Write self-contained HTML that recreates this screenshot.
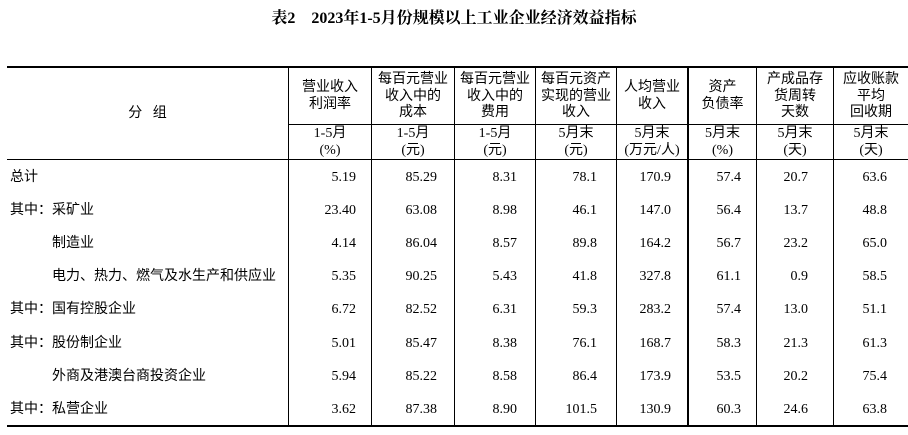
<!DOCTYPE html>
<html><head><meta charset="utf-8"><style>
body{margin:0;width:908px;height:435px;background:#fff;position:relative;overflow:hidden;font-family:"Liberation Serif","Noto Sans CJK SC",serif;color:#000}
.a{position:absolute;white-space:nowrap}
.h{position:absolute;background:#000}
.t{position:absolute;text-align:center;font-family:"Liberation Serif","Noto Sans CJK SC",sans-serif;font-size:14px;line-height:16.5px}
.n{position:absolute;text-align:right;font-size:14px;line-height:16px}
.l{position:absolute;font-family:"Liberation Serif","Noto Sans CJK SC",sans-serif;font-size:14px;line-height:16px}
</style></head><body>
<div class="a" style="left:0;width:908px;top:5px;text-align:center;font-weight:bold;font-size:16px;font-family:'Liberation Serif','Noto Serif CJK SC',serif">表2&nbsp;&nbsp;&nbsp;&nbsp;2023年1-5月份规模以上工业企业经济效益指标</div>
<div class="h" style="left:7px;top:66px;width:901px;height:2px"></div>
<div class="h" style="left:288px;top:124px;width:620px;height:1px"></div>
<div class="h" style="left:7px;top:159px;width:901px;height:1px"></div>
<div class="h" style="left:7px;top:425px;width:901px;height:2px"></div>
<div class="h" style="left:288px;top:67px;width:1px;height:359px"></div>
<div class="h" style="left:371px;top:67px;width:1px;height:359px"></div>
<div class="h" style="left:454px;top:67px;width:1px;height:359px"></div>
<div class="h" style="left:535px;top:67px;width:1px;height:359px"></div>
<div class="h" style="left:616px;top:67px;width:1px;height:359px"></div>
<div class="h" style="left:687px;top:67px;width:2px;height:359px"></div>
<div class="h" style="left:756px;top:67px;width:1px;height:359px"></div>
<div class="h" style="left:833px;top:67px;width:1px;height:359px"></div>
<div class="t" style="left:7px;width:281px;top:106px">分&nbsp;&nbsp;&nbsp;组</div>
<div class="t" style="left:289px;width:82px;top:80px">营业收入<br>利润率</div>
<div class="t" style="left:372px;width:82px;top:72px">每百元营业<br>收入中的<br>成本</div>
<div class="t" style="left:455px;width:80px;top:72px">每百元营业<br>收入中的<br>费用</div>
<div class="t" style="left:536px;width:80px;top:72px">每百元资产<br>实现的营业<br>收入</div>
<div class="t" style="left:617px;width:70px;top:80px">人均营业<br>收入</div>
<div class="t" style="left:689px;width:67px;top:80px">资产<br>负债率</div>
<div class="t" style="left:757px;width:76px;top:72px">产成品存<br>货周转<br>天数</div>
<div class="t" style="left:834px;width:74px;top:72px">应收账款<br>平均<br>回收期</div>
<div class="t" style="left:289px;width:82px;top:126px">1-5月<br>(%)</div>
<div class="t" style="left:372px;width:82px;top:126px">1-5月<br>(元)</div>
<div class="t" style="left:455px;width:80px;top:126px">1-5月<br>(元)</div>
<div class="t" style="left:536px;width:80px;top:126px">5月末<br>(元)</div>
<div class="t" style="left:617px;width:70px;top:126px">5月末<br>(万元/人)</div>
<div class="t" style="left:689px;width:67px;top:126px">5月末<br>(%)</div>
<div class="t" style="left:757px;width:76px;top:126px">5月末<br>(天)</div>
<div class="t" style="left:834px;width:74px;top:126px">5月末<br>(天)</div>
<div id="rows"></div>
<script>
var d=[["总计",0,"5.19","85.29","8.31","78.1","170.9","57.4","20.7","63.6"],
["其中：采矿业",0,"23.40","63.08","8.98","46.1","147.0","56.4","13.7","48.8"],
["制造业",1,"4.14","86.04","8.57","89.8","164.2","56.7","23.2","65.0"],
["电力、热力、燃气及水生产和供应业",1,"5.35","90.25","5.43","41.8","327.8","61.1","0.9","58.5"],
["其中：国有控股企业",0,"6.72","82.52","6.31","59.3","283.2","57.4","13.0","51.1"],
["其中：股份制企业",0,"5.01","85.47","8.38","76.1","168.7","58.3","21.3","61.3"],
["外商及港澳台商投资企业",1,"5.94","85.22","8.58","86.4","173.9","53.5","20.2","75.4"],
["其中：私营企业",0,"3.62","87.38","8.90","101.5","130.9","60.3","24.6","63.8"]];
var rx=[356,437,517,597,671,741,808,887],h="";
d.forEach(function(r,i){var y=170+i*33.1;
h+='<div class="l" style="left:'+(r[1]?52:10)+'px;top:'+y+'px">'+r[0]+'</div>';
for(var j=0;j<8;j++)h+='<div class="n" style="left:0;width:'+rx[j]+'px;top:'+y+'px">'+r[j+2]+'</div>';});
document.getElementById('rows').innerHTML=h;
</script>
</body></html>
